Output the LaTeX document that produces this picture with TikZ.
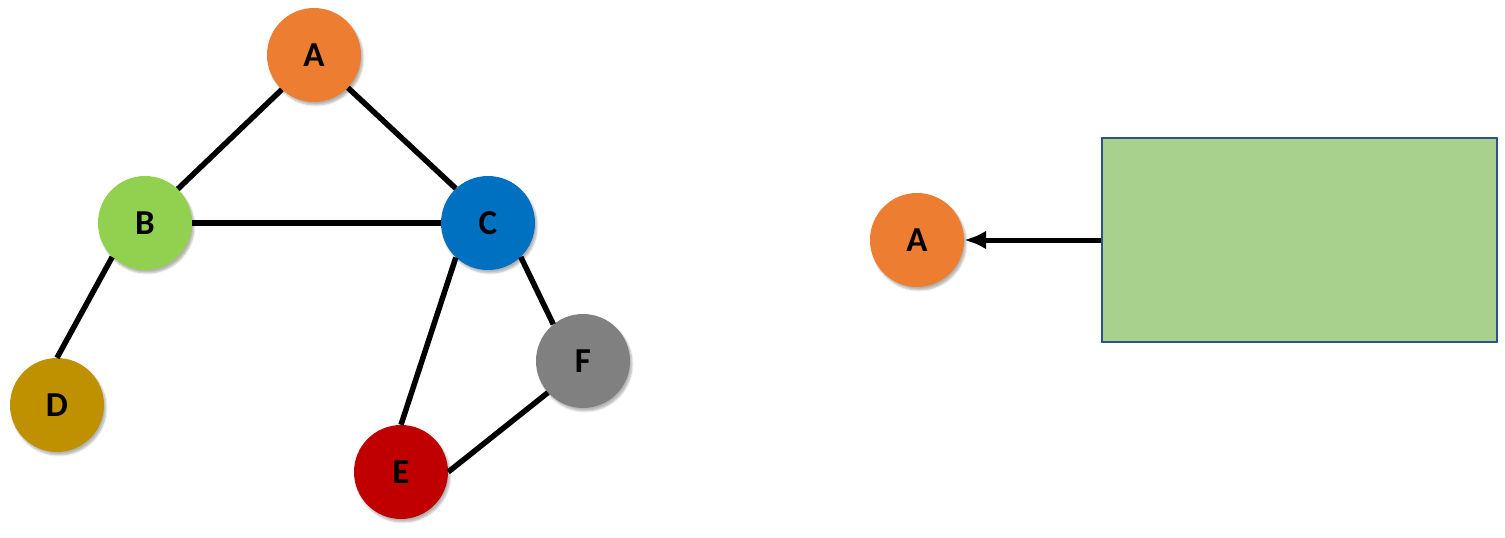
\documentclass[tikz,border=0pt]{standalone}
\usepackage{fontspec}
\setmainfont{Carlito}
\usetikzlibrary{arrows.meta,shadows.blur}
\definecolor{cA}{HTML}{ED7D31}
\definecolor{cB}{HTML}{92D050}
\definecolor{cC}{HTML}{0070C0}
\definecolor{cD}{HTML}{BF9000}
\definecolor{cE}{HTML}{C00000}
\definecolor{cF}{HTML}{808080}
\definecolor{rectfill}{HTML}{A9D18E}
\definecolor{rectdraw}{HTML}{2F528F}
\tikzset{
  vert/.style={circle, minimum size=94pt, inner sep=0pt, fill=#1,
    font=\fontsize{35}{40}\selectfont\bfseries, text=black,
    blur shadow={shadow xshift=2pt, shadow yshift=-3pt, shadow blur steps=6, shadow opacity=30}},
  edge/.style={line width=5.5pt, black},
}
\begin{document}
\begin{tikzpicture}[x=1pt,y=-1pt]
\useasboundingbox (0,0) rectangle (1505,538);
\node[vert=cA] (A) at (314,55) {A};
\node[vert=cB] (B) at (145,223) {B};
\node[vert=cC] (C) at (488,223) {C};
\node[vert=cD] (D) at (57,405) {D};
\node[vert=cE] (E) at (401,472) {E};
\node[vert=cF] (F) at (583,361) {F};
\draw[edge] (A.227) -- (B.46);
\draw[edge] (A.-44) -- (C.133);
\draw[edge] (B.0) -- (C.180);
\draw[edge] (B.226) -- (D.90);
\draw[edge] (C.227) -- (E.90);
\draw[edge] (C.-46) -- (F.129);
\draw[edge] (E.0) -- (F.222);
\node[vert=cA] (A2) at (917,240) {A};
\node[draw=rectdraw, fill=rectfill, line width=1.5pt, minimum width=395pt, minimum height=204pt, inner sep=0pt] (R) at (1299.5,240) {};
\draw[line width=5pt, -{Latex[length=22pt,width=19pt]}] (R.west) -- (A2);
\end{tikzpicture}
\end{document}
